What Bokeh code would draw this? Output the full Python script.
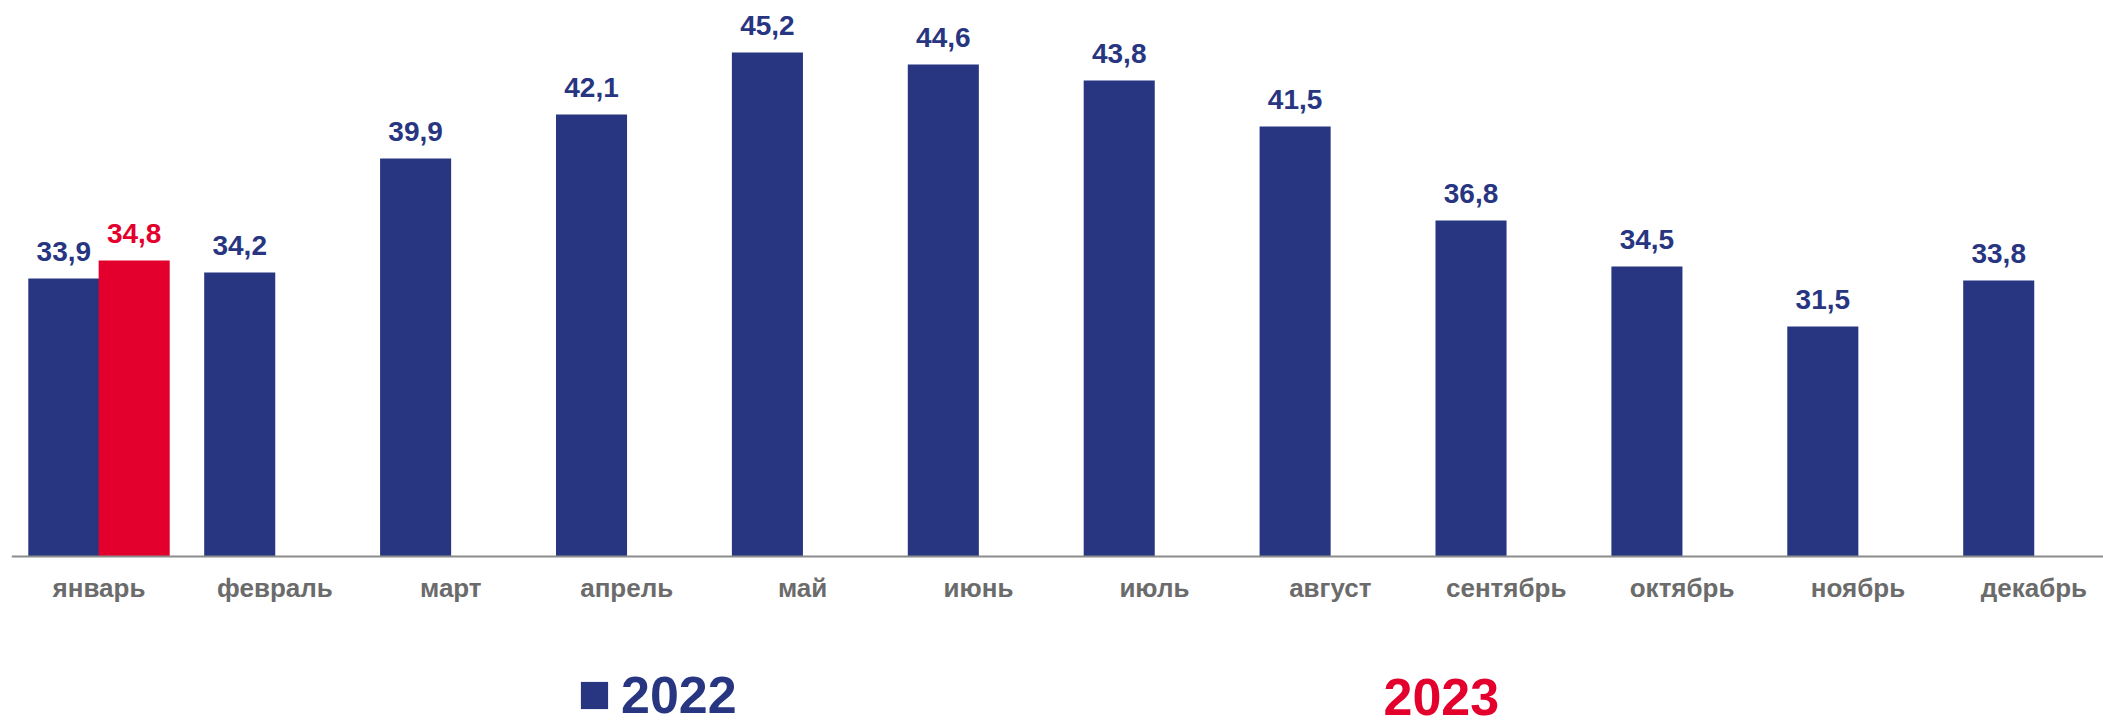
from bokeh.plotting import figure
from bokeh.models import ColumnDataSource, Range1d, Legend, LegendItem, Label, FixedTicker
from bokeh.core.properties import value
from bokeh.embed import file_html
from bokeh.resources import INLINE

months = ["январь", "февраль", "март", "апрель", "май", "июнь",
          "июль", "август", "сентябрь", "октябрь", "ноябрь", "декабрь"]
values_2022 = [33.9, 34.2, 39.9, 42.1, 45.2, 44.6, 43.8, 41.5, 36.8, 34.5, 31.5, 33.8]
months_2023 = ["январь"]
values_2023 = [34.8]

NAVY = "#283682"
RED = "#E3002D"
GRAY = "#6b6b6b"
FONT = "Liberation Sans"
BASE = 20
PX_PER_UNIT = 20.0
W, H = 2103, 725
AXIS_Y = 556          # pixel row of the baseline axis
LEFT = 11             # frame left edge

idx22 = list(range(len(months)))
idx23 = [months.index(m) for m in months_2023]
labels22 = [f"{v:.1f}".replace(".", ",") for v in values_2022]
labels23 = [f"{v:.1f}".replace(".", ",") for v in values_2023]

src22 = ColumnDataSource(dict(x=[i - 0.2 for i in idx22], top=values_2022, lab=labels22))
src23 = ColumnDataSource(dict(x=[i + 0.2 for i in idx23], top=values_2023, lab=labels23))

cat_px = 175.9
x0_px = 98.5
y_lo = BASE - (H - AXIS_Y) / PX_PER_UNIT
y_hi = BASE + AXIS_Y / PX_PER_UNIT

p = figure(width=W, height=H, output_backend="svg", toolbar_location=None,
           x_range=Range1d(-(x0_px - LEFT) / cat_px, (W - x0_px) / cat_px),
           y_range=Range1d(y_lo, y_hi),
           y_axis_location=None, min_border_left=LEFT, min_border_right=0,
           min_border_top=0, min_border_bottom=0)
p.outline_line_color = None
p.grid.visible = False
p.background_fill_color = "white"

r22 = p.vbar(x="x", top="top", bottom=BASE, width=0.404, source=src22,
             fill_color=NAVY, line_color=None)
r23 = p.vbar(x="x", top="top", bottom=BASE, width=0.404, source=src23,
             fill_color=RED, line_color=None)

p.text(x="x", y="top", text="lab", source=src22, text_align="center",
       text_baseline="alphabetic", y_offset=-27, text_color=NAVY,
       text_font=value(FONT), text_font_style="bold", text_font_size="28px")
p.text(x="x", y="top", text="lab", source=src23, text_align="center",
       text_baseline="alphabetic", y_offset=-27, text_color=RED,
       text_font=value(FONT), text_font_style="bold", text_font_size="28px")

ax = p.xaxis[0]
ax.fixed_location = BASE
ax.ticker = FixedTicker(ticks=idx22)
ax.major_label_overrides = {i: m for i, m in zip(idx22, months)}
ax.major_tick_line_color = None
ax.minor_tick_line_color = None
ax.major_tick_out = 0
ax.major_label_standoff = 16
ax.axis_line_color = "#8c8c8c"
ax.axis_line_width = 2
ax.major_label_text_font = FONT
ax.major_label_text_font_style = "bold"
ax.major_label_text_font_size = "26px"
ax.major_label_text_color = GRAY

legend = Legend(items=[LegendItem(label="2022", renderers=[r22])],
                location=(566, 0), orientation="horizontal",
                glyph_width=34, glyph_height=34, label_standoff=10,
                label_height=60, padding=0, margin=0, border_line_color=None,
                background_fill_alpha=0,
                label_text_font=FONT, label_text_font_style="bold",
                label_text_font_size="52px", label_text_color=NAVY)
p.add_layout(legend, "center")

p.add_layout(Label(x=1383 - LEFT, y=29, x_units="screen", y_units="screen",
                   text="2023", text_color=RED, text_font=FONT,
                   text_font_style="bold", text_font_size="52px",
                   text_baseline="alphabetic"))

open("out.html", "w").write(file_html(p, INLINE))
